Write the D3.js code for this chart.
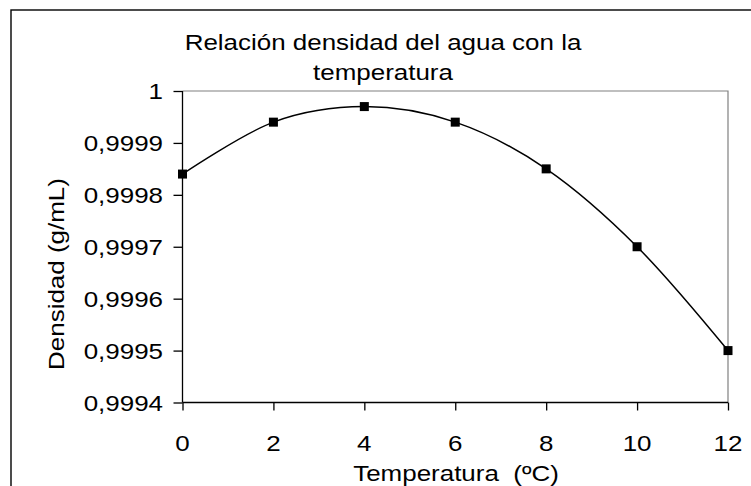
<!DOCTYPE html>
<html>
<head>
<meta charset="utf-8">
<script src="https://cdn.jsdelivr.net/npm/d3@7"></script>
<style>
  html, body { margin: 0; padding: 0; background: #fff; }
  svg { display: block; font-family: "Liberation Sans", Arial, sans-serif; }
</style>
</head>
<body>
<div id="chart"></div>
<script>
// ===============================================================
// Data
// ===============================================================
const temperatures = [0, 2, 4, 6, 8, 10, 12];
const densities = [0.99984, 0.99994, 0.99997, 0.99994, 0.99985, 0.99970, 0.99950];
const x_ticks = [0, 2, 4, 6, 8, 10, 12];
const y_ticks = [0.9994, 0.9995, 0.9996, 0.9997, 0.9998, 0.9999, 1];
const title_lines = ['Relación densidad del agua con la', 'temperatura'];
const x_title = 'Temperatura  (ºC)';
const y_title = 'Densidad (g/mL)';

// ===============================================================
// Setup
// ===============================================================
const width = 751, height = 486;
const plot = {left: 182.5, right: 728, top: 91, bottom: 402.5};
const font_size = 22;
const stretch = 1.18;   // text in the reference is a bit wide

const svg = d3.select('#chart').append('svg')
  .attr('width', width)
  .attr('height', height);

const x = d3.scaleLinear()
  .domain([0, 12])
  .range([plot.left, plot.right]);

const y = d3.scaleLinear()
  .domain([0.9994, 1])
  .range([plot.bottom, plot.top]);

const fmt = d => d === 1 ? '1' : d3.format('.4f')(d).replace('.', ',');

// chart frame (runs past the right/bottom edge)
svg.append('rect')
  .attr('x', 11).attr('y', 10)
  .attr('width', 800).attr('height', 600)
  .attr('fill', 'none')
  .attr('stroke', '#000')
  .attr('stroke-width', 1.4);

// draws a text with a horizontal stretch around its anchor
function label(x0, y0, txt, anchor, rotate = 0) {
  return svg.append('text')
    .attr('transform', `translate(${x0},${y0}) rotate(${rotate}) scale(${stretch},1)`)
    .attr('text-anchor', anchor)
    .attr('font-size', font_size)
    .attr('fill', '#000')
    .style('white-space', 'pre')
    .text(txt);
}

// ===============================================================
// Plot area border + axes
// ===============================================================
svg.append('path')
  .attr('d', `M${plot.left},${plot.top}H${plot.right}V${plot.bottom}`)
  .attr('fill', 'none')
  .attr('stroke', '#808080')
  .attr('stroke-width', 1.2);

const y_axis = svg.append('g')
  .attr('transform', `translate(${plot.left},0)`)
  .call(d3.axisLeft(y).tickValues(y_ticks).tickSize(9).tickFormat(''));

const x_axis = svg.append('g')
  .attr('transform', `translate(0,${plot.bottom})`)
  .call(d3.axisBottom(x).tickValues(x_ticks).tickSize(8).tickFormat(''));

[y_axis, x_axis].forEach(g => {
  g.selectAll('path, line')
    .attr('stroke', '#000')
    .attr('stroke-width', 1.3);
});
y_axis.select('.domain').attr('d', `M0,${plot.top}V${plot.bottom}`);
x_axis.select('.domain').attr('d', `M${plot.left},0H${plot.right}`);

y_ticks.forEach(t => label(163, y(t) + 8, fmt(t), 'end'));
x_ticks.forEach(t => label(x(t), 451, String(t), 'middle'));

// ===============================================================
// Titles
// ===============================================================
label(383, 50, title_lines[0], 'middle');
label(383, 80, title_lines[1], 'middle');
label(456, 481, x_title, 'middle');
label(64, 274, y_title, 'middle', -90);

// ===============================================================
// Series
// ===============================================================
const data = temperatures.map((t, i) => ({t: t, d: densities[i]}));

svg.append('path')
  .datum(data)
  .attr('fill', 'none')
  .attr('stroke', '#000')
  .attr('stroke-width', 1.5)
  .attr('d', d3.line()
    .x(d => x(d.t))
    .y(d => y(d.d))
    .curve(d3.curveCardinal.tension(0)));

const sq = 9;
svg.selectAll('rect.marker')
  .data(data)
  .enter()
  .append('rect')
  .attr('class', 'marker')
  .attr('x', d => x(d.t) - sq / 2)
  .attr('y', d => y(d.d) - sq / 2)
  .attr('width', sq)
  .attr('height', sq)
  .attr('fill', '#000');
</script>
</body>
</html>
